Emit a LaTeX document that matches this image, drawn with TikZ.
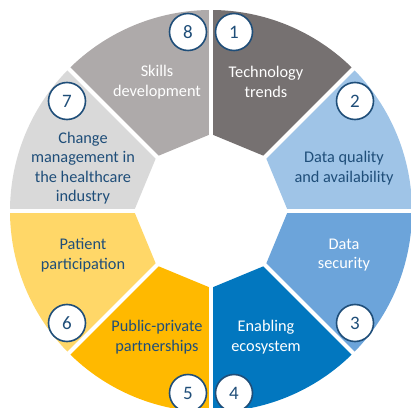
\documentclass[tikz,border=0pt]{standalone}
\usepackage{fontspec}
\setmainfont{Carlito}
\usetikzlibrary{calc}
\definecolor{dblue}{HTML}{1F4E79}
\definecolor{cA}{HTML}{767171}
\definecolor{cB}{HTML}{9FC4E7}
\definecolor{cC}{HTML}{6CA4DA}
\definecolor{cD}{HTML}{0277BF}
\definecolor{cE}{HTML}{FFB900}
\definecolor{cF}{HTML}{FFD768}
\definecolor{cG}{HTML}{D9D9D9}
\definecolor{cH}{HTML}{AEAAAA}
\begin{document}
\begin{tikzpicture}[x=1pt,y=1pt,
  numc/.style={circle,draw=dblue,line width=1.6pt,fill=white,minimum size=37pt,inner sep=0pt,text=dblue,font=\fontsize{19}{19}\selectfont},
  lbl/.style={align=center,font=\fontsize{16.3}{19.5}\selectfont},
  lblw/.style={lbl,text=white},
  lbld/.style={lbl,text=dblue}]
\useasboundingbox (0,0) rectangle (411,407);
\coordinate (C) at (211,196);
\foreach \a/\b/\c in {45/90/cA,0/45/cB,-45/0/cC,-90/-45/cD,-135/-90/cE,-180/-135/cF,135/180/cG,90/135/cH}{
  \fill[\c] ($(C)+(\a:77)$) -- ($(C)+(\a:201)$) arc[start angle=\a,end angle=\b,radius=201] -- ($(C)+(\b:77)$) -- cycle;
}
\foreach \a in {0,45,90,135}{
  \draw[white,line width=4pt] ($(C)+(\a:210)$) -- ($(C)+(\a+180:210)$);
}
\node[lblw] (t1) at (266,325) {Technology\\trends};
\node[lbld] (t2) at (344,239) {Data quality\\and availability};
\node[lblw] (t3) at (344,152) {Data\\security};
\node[lblw] (t4) at (266,70) {Enabling\\ecosystem};
\node[lbld] (t5) at (157,70) {Public-private\\partnerships};
\node[lbld] (t6) at (83,152) {Patient\\participation};
\node[lbld] (t7) at (83,239) {Change\\management in\\the healthcare\\industry};
\node[lblw] (t8) at (157,325) {Skills\\development};
\node[numc] (n1) at (234,375) {1};
\node[numc] (n2) at (355,306) {2};
\node[numc] (n3) at (355,84) {3};
\node[numc] (n4) at (234,14) {4};
\node[numc] (n5) at (188,14) {5};
\node[numc] (n6) at (67,84) {6};
\node[numc] (n7) at (67,306) {7};
\node[numc] (n8) at (188,375) {8};
\end{tikzpicture}
\end{document}
